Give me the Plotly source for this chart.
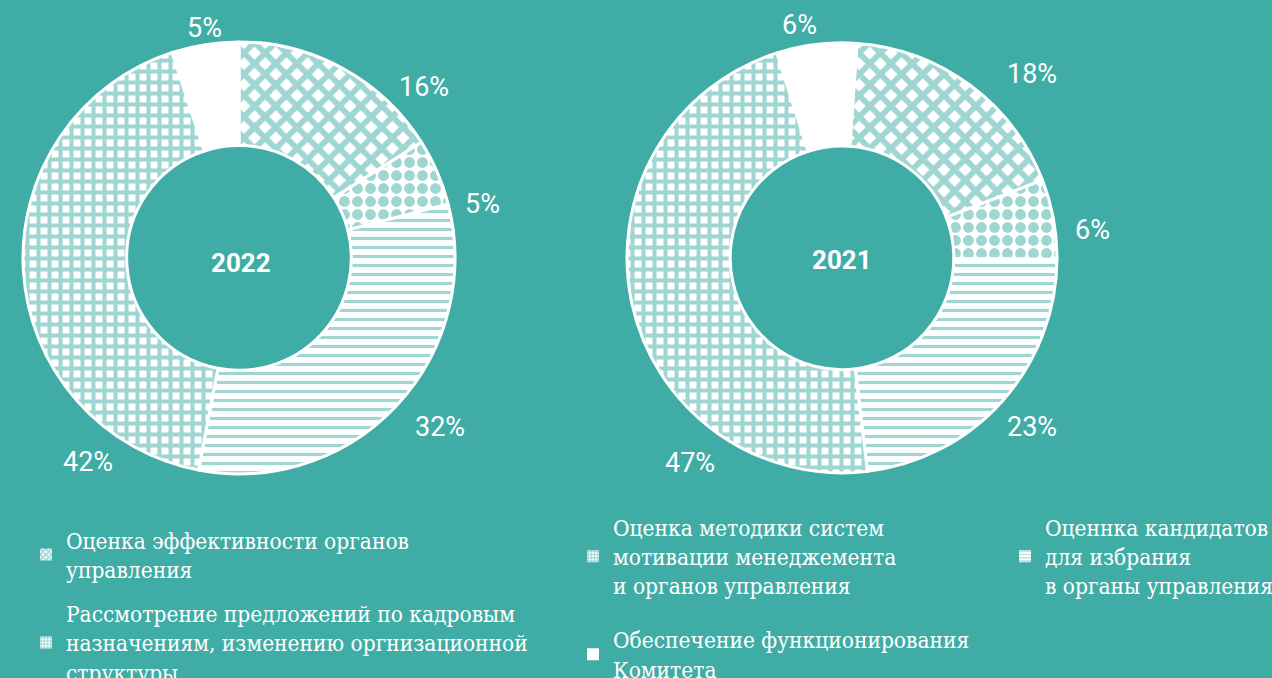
import plotly.graph_objects as go

# ---------------- data ----------------
years = ["2022", "2021"]
categories = [
    "Оценка эффективности органов управления",
    "Рассмотрение предложений по кадровым назначениям, изменению оргнизационной структуры",
    "Оценнка кандидатов для избрания в органы управления",
    "Оценка методики систем мотивации менеджемента и органов управления",
    "Обеспечение функционирования Комитета",
]
legend_labels = [
    "Оценка эффективности органов<br>управления",
    "Рассмотрение предложений по кадровым<br>назначениям, изменению оргнизационной<br>структуры",
    "Оценнка кандидатов<br>для избрания<br>в органы управления",
    "Оценка методики систем<br>мотивации менеджемента<br>и органов управления",
    "Обеспечение функционирования<br>Комитета",
]
values_2022 = [16, 5, 32, 42, 5]
values_2021 = [18, 6, 23, 47, 6]

# ---------------- style ----------------
FW, FH = 1288, 694        # figure div size (picture shows its top-left 1272x678)
BG = "#3fada5"
WHITE = "#ffffff"
pattern_shapes = ["x", ".", "-", "+", ""]
pattern_sizes = [15, 13, 9, 11, 8]
pattern_solid = [0.62, 0.55, 0.35, 0.6, 0.3]
legend_of = ["legend", "legend", "legend3", "legend2", "legend2"]
rotations = {"2022": 0, "2021": 4}

# label positions (pixels) for percentage texts, in category order
pct_pos = {
    "2022": [(424, 87), (482, 205), (440, 429), (88, 464), (204, 28)],
    "2021": [(1032, 74), (1092, 231), (1032, 429), (690, 465), (800, 25)],
}
center_pos = {"2022": (241, 264), "2021": (842, 261)}
domain_px = {
    "2022": ((23, 455), (42, 476)),
    "2021": ((627, 1057), (43, 475)),
}


def px(x, y):
    return x / FW, 1 - y / FH


def dom(yr):
    (x0, x1), (y0, y1) = domain_px[yr]
    return dict(x=[x0 / FW, x1 / FW], y=[1 - y1 / FH, 1 - y0 / FH])


pattern = dict(
    shape=pattern_shapes,
    size=pattern_sizes,
    solidity=pattern_solid,
    fgcolor=BG,
    bgcolor=WHITE,
    fillmode="overlay",
)

fig = go.Figure()
for yr, vals in zip(years, [values_2022, values_2021]):
    fig.add_trace(
        go.Pie(
            labels=categories,
            values=vals,
            hole=0.52,
            sort=False,
            direction="clockwise",
            rotation=rotations[yr],
            textinfo="none",
            showlegend=False,
            domain=dom(yr),
            marker=dict(colors=[WHITE] * 5, line=dict(color=WHITE, width=3), pattern=pattern),
            hoverinfo="label+percent",
        )
    )

# legend entries (same styling as the slices)
for i, lab in enumerate(legend_labels):
    fig.add_trace(
        go.Bar(
            x=[None],
            y=[None],
            name=lab,
            legend=legend_of[i],
            legendgroup=f"g{i}",
            showlegend=True,
            marker=dict(
                color=WHITE,
                line=dict(width=0),
                pattern=dict(
                    shape=pattern_shapes[i],
                    size=max(4, pattern_sizes[i] // 3),
                    solidity=pattern_solid[i],
                    fgcolor=BG,
                    bgcolor=WHITE,
                    fillmode="overlay",
                ),
            ),
        )
    )

annotations = []
pct_font = dict(family="Roboto, sans-serif", size=27, color=WHITE)
for yr, vals in zip(years, [values_2022, values_2021]):
    for v, (x, y) in zip(vals, pct_pos[yr]):
        ax, ay = px(x, y)
        annotations.append(
            dict(x=ax, y=ay, xref="paper", yref="paper", text=f"{v}%", showarrow=False,
                 font=pct_font, xanchor="center", yanchor="middle")
        )
    cx, cy = px(*center_pos[yr])
    annotations.append(
        dict(x=cx, y=cy, xref="paper", yref="paper", text=f"<b>{yr}</b>", showarrow=False,
             font=dict(family="Roboto, sans-serif", size=26, color=WHITE),
             xanchor="center", yanchor="middle")
    )

leg_font = dict(family="DejaVu Serif Condensed, DejaVu Serif, serif", size=22.5, color=WHITE)
common_leg = dict(font=leg_font, bgcolor="rgba(0,0,0,0)", borderwidth=0,
                  xanchor="left", yanchor="top", traceorder="grouped", orientation="v")

fig.update_layout(
    margin=dict(l=0, r=0, t=0, b=0),
    paper_bgcolor=BG,
    plot_bgcolor=BG,
    xaxis=dict(visible=False),
    yaxis=dict(visible=False),
    annotations=annotations,
    legend=dict(x=26 / FW, y=1 - 521 / FH, tracegroupgap=12, **common_leg),
    legend2=dict(x=573 / FW, y=1 - 508 / FH, tracegroupgap=22, **common_leg),
    legend3=dict(x=1005 / FW, y=1 - 508 / FH, tracegroupgap=10, **common_leg),
)

fig.write_html(
    "out.html",
    config={"displayModeBar": False},
    default_width=f"{FW}px",
    default_height=f"{FH}px; position:fixed; top:0; left:0",
    post_script="document.body.style.margin='0px';document.body.style.background='" + BG + "';",
)
